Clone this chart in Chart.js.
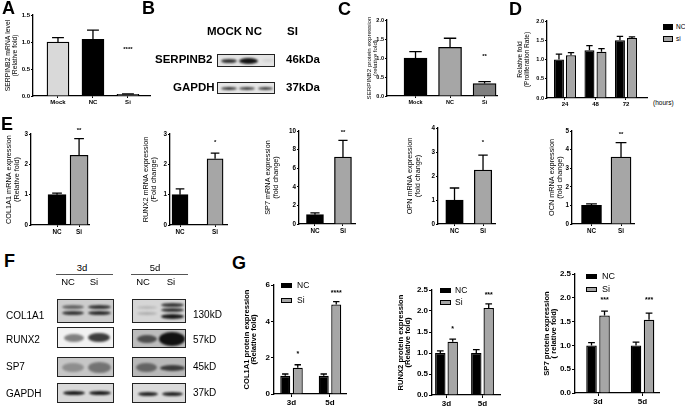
<!DOCTYPE html>
<html>
<head>
<meta charset="utf-8">
<script src="https://cdn.jsdelivr.net/npm/chart.js@4.4.1/dist/chart.umd.min.js"></script>
<style>
body { margin: 0; background: #fff; width: 685px; height: 409px; position: relative; overflow: hidden; font-family: "Liberation Sans", Arial, sans-serif; }
canvas { position: absolute; }
.t { position: absolute; white-space: nowrap; color: #000; }
.blot { position: absolute; box-sizing: border-box; border: 1.5px solid #222; overflow: hidden; }
.band { position: absolute; border-radius: 50%; filter: blur(1.1px); background: #111; }
.key { position: absolute; box-sizing: border-box; border: 1px solid #000; }
</style>
</head>
<body>
<script>
// A: SERPINB2 mRNA
var aLabels = ['Mock', 'NC', 'Si'];
var aMean = [1.0, 1.05, 0.03];
var aErr = [0.08, 0.17, 0.01];
var aStars = ['', '', '****'];
var aStarAt = [0, 0, 0.87];

// C: SERPINB2 protein
var cLabels = ['Mock', 'NC', 'Si'];
var cMean = [1.0, 1.28, 0.33];
var cErr = [0.17, 0.24, 0.05];
var cStars = ['', '', '**'];
var cStarAt = [0, 0, 1.05];

// D: proliferation
var dLabels = ['24', '48', '72'];
var dNC = [1.0, 1.24, 1.5];
var dNCErr = [0.14, 0.12, 0.1];
var dSi = [1.11, 1.2, 1.56];
var dSiErr = [0.07, 0.08, 0.03];

// E: mRNA, NC vs Si
var eLabels = ['NC', 'Si'];
var eCol1a1 = [1.0, 2.3];
var eCol1a1Err = [0.05, 0.55];
var eRunx2 = [1.0, 2.18];
var eRunx2Err = [0.19, 0.19];
var eSp7 = [1.0, 7.2];
var eSp7Err = [0.2, 1.8];
var eOpn = [1.0, 2.25];
var eOpnErr = [0.5, 0.62];
var eOcn = [1.0, 3.6];
var eOcnErr = [0.08, 0.77];
var eStars = [['', '**'], ['', '*'], ['', '**'], ['', '*'], ['', '**']];
var eStarAt = [[0, 3.13], [0, 2.74], [0, 9.9], [0, 3.4], [0, 4.8]];

// G: protein, 3d / 5d
var gLabels = ['3d', '5d'];
var gCol1a1NC = [1.0, 1.0];
var gCol1a1NCErr = [0.1, 0.1];
var gCol1a1Si = [1.45, 4.93];
var gCol1a1SiErr = [0.16, 0.16];
var gRunx2NC = [1.0, 1.0];
var gRunx2NCErr = [0.05, 0.08];
var gRunx2Si = [1.27, 2.07];
var gRunx2SiErr = [0.06, 0.1];
var gSp7NC = [1.0, 1.0];
var gSp7NCErr = [0.06, 0.07];
var gSp7Si = [1.63, 1.54];
var gSp7SiErr = [0.09, 0.14];
var gStars = [['*', '****'], ['*', '***'], ['***', '***']];
var gStarAt = [[2.2, 5.55], [1.57, 2.38], [1.96, 1.96]];

Chart.defaults.font.family = '"Liberation Sans", Arial, sans-serif';
Chart.defaults.color = '#000';

function pts(vals) {
    return vals.map(function (v, i) { return { x: i, y: v }; });
}

// error bars (upward only, Prism style) and significance stars
var errorBars = {
    id: 'errorBars',
    afterDatasetsDraw: function (chart) {
        var ctx = chart.ctx, y = chart.scales.y;
        chart.data.datasets.forEach(function (ds, di) {
            var meta = chart.getDatasetMeta(di);
            meta.data.forEach(function (bar, i) {
                var v = ds.data[i].y;
                var top = y.getPixelForValue(v + ds.errors[i]);
                var base = y.getPixelForValue(v);
                var cap = bar.width * ds.capRatio;
                ctx.save();
                ctx.strokeStyle = '#000';
                ctx.lineWidth = 1.3;
                ctx.beginPath();
                ctx.moveTo(bar.x, base);
                ctx.lineTo(bar.x, top);
                ctx.moveTo(bar.x - cap, top);
                ctx.lineTo(bar.x + cap, top);
                ctx.stroke();
                if (ds.stars && ds.stars[i]) {
                    ctx.fillStyle = '#000';
                    ctx.font = 'bold ' + ds.starSize + 'px "Liberation Sans", Arial';
                    ctx.textAlign = 'center';
                    ctx.textBaseline = 'middle';
                    ctx.fillText(ds.stars[i], bar.x, y.getPixelForValue(ds.starAt[i]));
                }
                ctx.restore();
            });
        });
    }
};

function drawPanel(p) {
    var padT = 10, padR = 4;
    var lh = p.titleSize * p.titleLH;
    var left = Math.floor(p.titleX - lh / 2 - 1);
    var cv = document.createElement('canvas');
    cv.width = p.x1 - left + padR;
    cv.height = p.y1 - p.y0 + padT + p.xh;
    cv.style.left = left + 'px';
    cv.style.top = (p.y0 - padT) + 'px';
    document.body.appendChild(cv);

    var gridOpts = { offset: false, drawOnChartArea: false, drawTicks: true, tickLength: p.tick, color: '#000', lineWidth: 1 };
    var borderOpts = { color: '#000', width: 1.3 };

    return new Chart(cv, {
        type: 'bar',
        data: { datasets: p.datasets },
        options: {
            responsive: false,
            animation: false,
            layout: { padding: { top: padT, right: padR, left: 0, bottom: 0 } },
            plugins: { legend: { display: false }, tooltip: { enabled: false } },
            scales: {
                x: {
                    type: 'linear', min: p.xmin, max: p.xmax, bounds: 'data', offset: false,
                    afterBuildTicks: function (s) { s.ticks = p.labels.map(function (l, i) { return { value: i }; }); },
                    afterFit: function (s) { s.height = p.xh; s.paddingLeft = 0; s.paddingRight = 0; },
                    ticks: {
                        callback: function (v, i) { return p.labels[i]; },
                        autoSkip: false, maxRotation: 0, minRotation: 0, padding: 1,
                        font: { size: p.xFont, weight: 'bold' }
                    },
                    grid: gridOpts,
                    border: borderOpts
                },
                y: {
                    min: 0, max: p.ymax,
                    afterFit: function (s) { s.width = p.x0 - left; s.paddingTop = 0; s.paddingBottom = 0; },
                    ticks: {
                        stepSize: p.step, padding: 1,
                        callback: function (v) { return v.toFixed(p.dec); },
                        font: { size: p.yFont, weight: 'bold' }
                    },
                    title: {
                        display: true, text: p.title, color: '#000',
                        font: { size: p.titleSize, lineHeight: p.titleLH, weight: p.titleBold ? 'bold' : 'normal' },
                        padding: { top: p.titleX - lh / 2 - left, bottom: 0 }
                    },
                    grid: gridOpts,
                    border: borderOpts
                }
            }
        },
        plugins: [errorBars]
    });
}

function single(vals, errs, colors, thick, stars, starAt, starSize) {
    return [{
        data: pts(vals), errors: errs, backgroundColor: colors, borderColor: '#000', borderWidth: 1.3,
        barThickness: thick, capRatio: 0.27, stars: stars, starAt: starAt, starSize: starSize
    }];
}

function pair(nc, ncErr, si, siErr, cat, bar, stars, starAt, starSize) {
    return [
        { data: pts(nc), errors: ncErr, backgroundColor: '#000', borderColor: '#000', borderWidth: 1.3,
          categoryPercentage: cat, barPercentage: bar, capRatio: 0.32 },
        { data: pts(si), errors: siErr, backgroundColor: '#a6a6a6', borderColor: '#000', borderWidth: 1.3,
          categoryPercentage: cat, barPercentage: bar, capRatio: 0.32, stars: stars, starAt: starAt, starSize: starSize }
    ];
}

function txt(s, x, y, size, bold, center) {
    var d = document.createElement('div');
    d.className = 't';
    d.textContent = s;
    d.style.fontSize = size + 'px';
    d.style.lineHeight = size + 'px';
    d.style.top = (y - size / 2) + 'px';
    d.style.left = x + 'px';
    if (bold) d.style.fontWeight = 'bold';
    if (center) d.style.transform = 'translateX(-50%)';
    document.body.appendChild(d);
}

function key(x, y, w, h, color) {
    var d = document.createElement('div');
    d.className = 'key';
    d.style.left = x + 'px'; d.style.top = y + 'px';
    d.style.width = w + 'px'; d.style.height = h + 'px';
    d.style.background = color;
    document.body.appendChild(d);
}

function blot(x, y, w, h, bg, bands) {
    var b = document.createElement('div');
    b.className = 'blot';
    b.style.left = x + 'px'; b.style.top = y + 'px';
    b.style.width = w + 'px'; b.style.height = h + 'px';
    b.style.background = bg;
    bands.forEach(function (k) {
        var e = document.createElement('div');
        e.className = 'band';
        e.style.left = k[0] + 'px'; e.style.top = k[1] + 'px';
        e.style.width = k[2] + 'px'; e.style.height = k[3] + 'px';
        e.style.opacity = k[4];
        b.appendChild(e);
    });
    document.body.appendChild(b);
}

// ---- A
drawPanel({
    x0: 33, x1: 150, y0: 15, y1: 96, xh: 12, tick: 2, xmin: -0.714, xmax: 2.63,
    labels: aLabels, ymax: 1.5, step: 0.5, dec: 1, xFont: 6, yFont: 6,
    title: ['SERPINB2 mRNA level', '(Relative fold)'], titleX: 8.5, titleSize: 6.8, titleLH: 1.03,
    datasets: single(aMean, aErr, ['#d9d9d9', '#000', '#999'], 22, aStars, aStarAt, 6)
});

// ---- C
drawPanel({
    x0: 387, x1: 497, y0: 20, y1: 96, xh: 12, tick: 2, xmin: -0.826, xmax: 2.36,
    labels: cLabels, ymax: 2.0, step: 0.5, dec: 1, xFont: 5.5, yFont: 5.5,
    title: ['SERPINB2 protein expression', '(relative fold)'], titleX: 369.5, titleSize: 6.2, titleLH: 0.95,
    datasets: single(cMean, cErr, ['#000', '#a6a6a6', '#7f7f7f'], 23, cStars, cStarAt, 6)
});

// ---- D
drawPanel({
    x0: 547, x1: 647, y0: 21, y1: 98, xh: 12, tick: 2, xmin: -0.59, xmax: 2.69,
    labels: dLabels, ymax: 2.0, step: 0.5, dec: 1, xFont: 6, yFont: 5.5,
    title: ['Relative fold', '(Proliferation Rate)'], titleX: 520.5, titleSize: 6.6, titleLH: 1.06,
    datasets: pair(dNC, dNCErr, dSi, dSiErr, 0.79, 0.83, null, null, 6)
});

// ---- E
var eCfg = [
    { x0: 31, x1: 89, y0: 134, y1: 225, xmin: -1.18, xmax: 1.45, ymax: 3, step: 1, thick: 18, tx: 9,
      vals: eCol1a1, errs: eCol1a1Err, title: ['COL1A1 mRNA expression', '(Relative fold)'] },
    { x0: 170, x1: 227, y0: 134, y1: 225, xmin: -0.286, xmax: 1.34, ymax: 3, step: 1, thick: 16, tx: 146,
      vals: eRunx2, errs: eRunx2Err, title: ['RUNX2 mRNA expression', '(Fold change)'] },
    { x0: 299, x1: 355, y0: 131, y1: 224, xmin: -0.571, xmax: 1.43, ymax: 10, step: 2, thick: 17, tx: 268,
      vals: eSp7, errs: eSp7Err, title: ['SP7 mRNA expression', '(fold change)'] },
    { x0: 438, x1: 495, y0: 128, y1: 224, xmin: -0.579, xmax: 1.42, ymax: 4, step: 1, thick: 17.5, tx: 410,
      vals: eOpn, errs: eOpnErr, title: ['OPN mRNA expression', '(fold change)'] },
    { x0: 572, x1: 634, y0: 131, y1: 224, xmin: -0.661, xmax: 1.44, ymax: 5, step: 1, thick: 20, tx: 552,
      vals: eOcn, errs: eOcnErr, title: ['OCN mRNA expression', '(fold change)'] }
];
eCfg.forEach(function (c, k) {
    drawPanel({
        x0: c.x0, x1: c.x1, y0: c.y0, y1: c.y1, xh: 14, tick: 2, xmin: c.xmin, xmax: c.xmax,
        labels: eLabels, ymax: c.ymax, step: c.step, dec: 0, xFont: 6.3, yFont: 6.3,
        title: c.title, titleX: c.tx, titleSize: 7.3, titleLH: 1.05,
        datasets: single(c.vals, c.errs, ['#000', '#a6a6a6'], c.thick, eStars[k], eStarAt[k], 6)
    });
});

// ---- G
drawPanel({
    x0: 274, x1: 346, y0: 285, y1: 394, xh: 14, tick: 3, xmin: -0.455, xmax: 1.416,
    labels: gLabels, ymax: 6, step: 2, dec: 0, xFont: 8, yFont: 8,
    title: ['COL1A1 protein expression', '(Relative fold)'], titleX: 247, titleSize: 7.6, titleLH: 0.95, titleBold: true,
    datasets: pair(gCol1a1NC, gCol1a1NCErr, gCol1a1Si, gCol1a1SiErr, 0.65, 0.8, gStars[0], gStarAt[0], 7)
});
drawPanel({
    x0: 432, x1: 500, y0: 290, y1: 395, xh: 14, tick: 3, xmin: -0.403, xmax: 1.486,
    labels: gLabels, ymax: 2.5, step: 0.5, dec: 1, xFont: 8, yFont: 8,
    title: ['RUNX2 protein expression', '(Relative fold)'], titleX: 401, titleSize: 7.6, titleLH: 0.95, titleBold: true,
    datasets: pair(gRunx2NC, gRunx2NCErr, gRunx2Si, gRunx2SiErr, 0.69, 0.84, gStars[1], gStarAt[1], 7)
});
drawPanel({
    x0: 575, x1: 659, y0: 274, y1: 393, xh: 14, tick: 3, xmin: -0.517, xmax: 1.37,
    labels: gLabels, ymax: 2.5, step: 0.5, dec: 1, xFont: 8, yFont: 8,
    title: ['SP7 protein expression', '( relative fold)'], titleX: 547, titleSize: 7.6, titleLH: 0.95, titleBold: true,
    datasets: pair(gSp7NC, gSp7NCErr, gSp7Si, gSp7SiErr, 0.585, 0.81, gStars[2], gStarAt[2], 7)
});

// panel letters
txt('A', 2, 8, 18, true);
txt('B', 142, 8, 18, true);
txt('C', 338, 9, 18, true);
txt('D', 509, 9, 18, true);
txt('E', 1, 124, 18, true);
txt('F', 4, 261, 18, true);
txt('G', 232, 263, 18, true);

// D legend + unit
key(663, 24, 10, 6, '#000'); txt('NC', 676, 27, 6.5);
key(663, 36, 10, 6, '#a6a6a6'); txt('si', 676, 39, 6.5);
txt('(hours)', 653, 103, 6.5);

// G legends
key(281, 283, 11, 5, '#000'); txt('NC', 297, 285.5, 8.5);
key(281, 298, 11, 5, '#a6a6a6'); txt('Si', 297, 300.5, 8.5);
key(440, 288, 11, 5, '#000'); txt('NC', 455, 290.5, 8.5);
key(440, 300, 11, 5, '#a6a6a6'); txt('Si', 455, 302.5, 8.5);
key(586, 274, 11, 5, '#000'); txt('NC', 602, 276.5, 9);
key(586, 287, 11, 5, '#a6a6a6'); txt('Si', 602, 289.5, 9);

// B: western blot
txt('MOCK NC', 207, 32, 11.5, true);
txt('SI', 287, 32, 11.5, true);
txt('SERPINB2', 155, 60, 11.5, true);
txt('GAPDH', 173, 88, 11.5, true);
txt('46kDa', 286, 60, 11.5, true);
txt('37kDa', 286, 88, 11.5, true);
blot(217, 54, 58, 13, '#e4e4e4', [[3, 3.5, 16, 4, 0.85], [21, 2.5, 19, 6, 1], [44, 4, 12, 3, 0.08]]);
blot(217, 82, 58, 12, '#e6e6e6', [[3, 4, 16, 3, 0.85], [21, 4, 16, 3, 0.8], [40, 4, 15, 3, 0.8]]);

// F: western blot
txt('3d', 82, 268, 9.5, false, true);
txt('NC', 68, 282, 9.5, false, true);
txt('Si', 94, 282, 9.5, false, true);
txt('5d', 155, 268, 9.5, false, true);
txt('NC', 143, 282, 9.5, false, true);
txt('Si', 171, 282, 9.5, false, true);
var l1 = document.createElement('div');
l1.style.cssText = 'position:absolute;left:56px;top:274px;width:57px;height:1px;background:#555';
document.body.appendChild(l1);
var l2 = document.createElement('div');
l2.style.cssText = 'position:absolute;left:131px;top:274px;width:57px;height:1px;background:#555';
document.body.appendChild(l2);

txt('COL1A1', 6, 316, 10);
txt('RUNX2', 6, 340, 10);
txt('SP7', 6, 367, 10);
txt('GAPDH', 6, 394, 10);
txt('130kD', 193, 315, 10);
txt('57kD', 193, 340, 10);
txt('45kD', 193, 367, 10);
txt('37kD', 193, 393, 10);

blot(57, 299, 57, 24, '#cdcdcd', [[4, 5, 22, 4, 0.55], [4, 11, 22, 4, 0.8], [30, 5, 23, 4, 0.8], [30, 11, 23, 4, 0.85]]);
blot(132, 299, 54, 24, '#d6d6d6', [[4, 6, 20, 3, 0.15], [4, 12, 20, 3, 0.2], [28, 3, 23, 4, 0.8], [28, 8, 23, 4, 0.8], [28, 14, 23, 5, 0.95]]);
blot(57, 327, 57, 21, '#f2f2f2', [[6, 6, 20, 8, 0.5], [30, 5, 22, 9, 0.8]]);
blot(132, 329, 54, 19, '#bdbdbd', [[4, 5, 20, 8, 0.65], [26, 2, 26, 14, 1]]);
blot(57, 357, 57, 20, '#c6c6c6', [[4, 5, 22, 9, 0.3], [30, 4, 23, 11, 0.45]]);
blot(132, 357, 54, 20, '#b9b9b9', [[3, 5, 21, 9, 0.5], [27, 7, 25, 6, 0.75]]);
blot(57, 383, 57, 20, '#d9d9d9', [[5, 7, 22, 4, 0.95], [31, 7, 22, 4, 0.95]]);
blot(132, 383, 54, 20, '#dadada', [[5, 8, 20, 4, 0.9], [29, 8, 21, 4, 0.9]]);
</script>
</body>
</html>
